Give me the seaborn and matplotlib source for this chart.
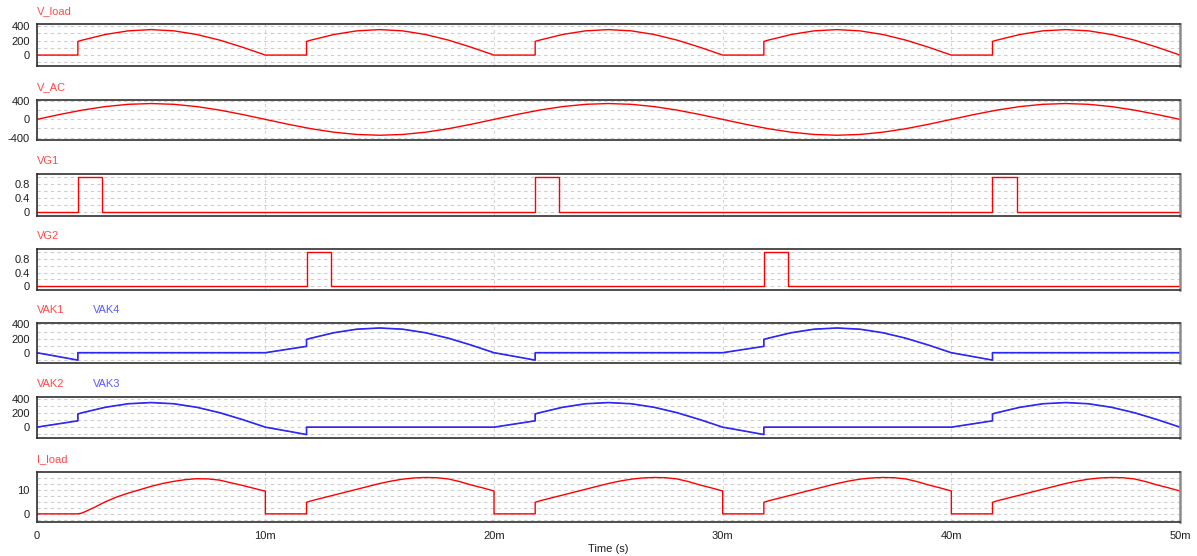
import seaborn as sns
import matplotlib.pyplot as plt

# time in ms
t_ac = [0, 1, 2, 3, 4, 5, 6, 7, 8, 9, 10, 11, 12, 13, 14, 15, 16, 17, 18, 19,
        20, 21, 22, 23, 24, 25, 26, 27, 28, 29, 30, 31, 32, 33, 34, 35, 36, 37, 38, 39,
        40, 41, 42, 43, 44, 45, 46, 47, 48, 49, 50]
v_ac = [0, 108, 206, 283, 333, 350, 333, 283, 206, 108,
        0, -108, -206, -283, -333, -350, -333, -283, -206, -108,
        0, 108, 206, 283, 333, 350, 333, 283, 206, 108,
        0, -108, -206, -283, -333, -350, -333, -283, -206, -108,
        0, 108, 206, 283, 333, 350, 333, 283, 206, 108,
        0]

t_load = [0, 1.8, 1.8, 2, 3, 4, 5, 6, 7, 8, 9, 10,
          11.8, 11.8, 12, 13, 14, 15, 16, 17, 18, 19, 20,
          21.8, 21.8, 22, 23, 24, 25, 26, 27, 28, 29, 30,
          31.8, 31.8, 32, 33, 34, 35, 36, 37, 38, 39, 40,
          41.8, 41.8, 42, 43, 44, 45, 46, 47, 48, 49, 50]
v_load = [0, 0, 188, 206, 283, 333, 350, 333, 283, 206, 108, 0,
          0, 188, 206, 283, 333, 350, 333, 283, 206, 108, 0,
          0, 188, 206, 283, 333, 350, 333, 283, 206, 108, 0,
          0, 188, 206, 283, 333, 350, 333, 283, 206, 108, 0,
          0, 188, 206, 283, 333, 350, 333, 283, 206, 108, 0]

t_vg1 = [0, 1.8, 1.8, 2.85, 2.85, 21.8, 21.8, 22.85, 22.85, 41.8, 41.8, 42.85, 42.85, 50]
v_vg1 = [0, 0, 1, 1, 0, 0, 1, 1, 0, 0, 1, 1, 0, 0]

t_vg2 = [0, 11.8, 11.8, 12.85, 12.85, 31.8, 31.8, 32.85, 32.85, 50]
v_vg2 = [0, 0, 1, 1, 0, 0, 1, 1, 0, 0]

t_vak4 = [0, 1, 1.8, 1.8, 10, 11, 11.8, 11.8, 12, 13, 14, 15, 16, 17, 18, 19, 20,
          21, 21.8, 21.8, 30, 31, 31.8, 31.8, 32, 33, 34, 35, 36, 37, 38, 39, 40,
          41, 41.8, 41.8, 50]
v_vak4 = [0, -58, -105, 0, 0, 50, 90, 188, 206, 283, 333, 350, 333, 283, 206, 108, 0,
          -58, -105, 0, 0, 50, 90, 188, 206, 283, 333, 350, 333, 283, 206, 108, 0,
          -58, -105, 0, 0]
# VAK1 sits exactly under VAK4
v_vak1 = v_vak4

t_vak3 = [0, 1, 1.8, 1.8, 2, 3, 4, 5, 6, 7, 8, 9, 10,
          11, 11.8, 11.8, 20,
          21, 21.8, 21.8, 22, 23, 24, 25, 26, 27, 28, 29, 30,
          31, 31.8, 31.8, 40,
          41, 41.8, 41.8, 42, 43, 44, 45, 46, 47, 48, 49, 50]
v_vak3 = [0, 50, 90, 188, 206, 283, 333, 350, 333, 283, 206, 108, 0,
          -58, -105, 0, 0,
          50, 90, 188, 206, 283, 333, 350, 333, 283, 206, 108, 0,
          -58, -105, 0, 0,
          50, 90, 188, 206, 283, 333, 350, 333, 283, 206, 108, 0]
v_vak2 = v_vak3

t_i = [0, 1.8, 2, 2.5, 3, 3.5, 4, 4.5, 5, 5.5, 6, 6.5, 7, 7.5, 8, 8.5, 9, 9.5, 10, 10,
       11.8, 11.8, 12, 12.5, 13, 13.5, 14, 14.5, 15, 15.5, 16, 16.5, 17, 17.5, 18, 18.5, 19, 19.5, 20, 20,
       21.8, 21.8, 22, 22.5, 23, 23.5, 24, 24.5, 25, 25.5, 26, 26.5, 27, 27.5, 28, 28.5, 29, 29.5, 30, 30,
       31.8, 31.8, 32, 32.5, 33, 33.5, 34, 34.5, 35, 35.5, 36, 36.5, 37, 37.5, 38, 38.5, 39, 39.5, 40, 40,
       41.8, 41.8, 42, 42.5, 43, 43.5, 44, 44.5, 45, 45.5, 46, 46.5, 47, 47.5, 48, 48.5, 49, 49.5, 50]
v_i = [0, 0, 0.4, 2.6, 5.0, 7.0, 8.6, 10.0, 11.4, 12.6, 13.5, 14.2, 14.6, 14.5, 14.0, 12.9, 11.8, 10.6, 9.4, 0,
       0, 4.8, 5.4, 6.6, 7.8, 9.0, 10.2, 11.4, 12.6, 13.6, 14.4, 14.9, 15.1, 15.0, 14.5, 13.4, 12.0, 10.8, 9.5, 0,
       0, 4.8, 5.4, 6.6, 7.8, 9.0, 10.2, 11.4, 12.6, 13.6, 14.4, 14.9, 15.1, 15.0, 14.5, 13.4, 12.0, 10.8, 9.5, 0,
       0, 4.8, 5.4, 6.6, 7.8, 9.0, 10.2, 11.4, 12.6, 13.6, 14.4, 14.9, 15.1, 15.0, 14.5, 13.4, 12.0, 10.8, 9.5, 0,
       0, 4.8, 5.4, 6.6, 7.8, 9.0, 10.2, 11.4, 12.6, 13.6, 14.4, 14.9, 15.1, 15.0, 14.5, 13.4, 12.0, 10.8, 9.5]

x_ticks = [0, 10, 20, 30, 40, 50]
x_labels = ["0", "10m", "20m", "30m", "40m", "50m"]

RED = "#ff0000"
BLUE = "#2828ff"
RED_TXT = "#ff4848"
BLUE_TXT = "#5a5aff"

sns.set_style("white")
plt.rcParams["font.family"] = ["Liberation Sans", "DejaVu Sans"]

# (labels, traces as (t, v, colour, width), ylim, grid values, labelled values, pixel top/bottom)
panels = [
    ([("V_load", RED_TXT)], [(t_load, v_load, RED, 1.0)], (-146, 423),
     [-100, 0, 100, 200, 300, 400], [0, 200, 400], (24.3, 65.7)),
    ([("V_AC", RED_TXT)], [(t_ac, v_ac, RED, 1.0)], (-444, 435),
     [-400, -200, 0, 200, 400], [-400, 0, 400], (99.7, 139.5)),
    ([("VG1", RED_TXT)], [(t_vg1, v_vg1, RED, 1.0)], (-0.12, 1.09),
     [0, 0.2, 0.4, 0.6, 0.8, 1.0], [0, 0.4, 0.8], (174.3, 215.7)),
    ([("VG2", RED_TXT)], [(t_vg2, v_vg2, RED, 1.0)], (-0.12, 1.09),
     [0, 0.2, 0.4, 0.6, 0.8, 1.0], [0, 0.4, 0.8], (249.0, 290.3)),
    ([("VAK1", RED_TXT), ("VAK4", BLUE_TXT)],
     [(t_vak4, v_vak1, RED, 0.5), (t_vak4, v_vak4, BLUE, 1.2)],
     (-150, 425), [-100, 0, 100, 200, 300, 400], [0, 200, 400], (322.7, 363.3)),
    ([("VAK2", RED_TXT), ("VAK3", BLUE_TXT)],
     [(t_vak3, v_vak2, RED, 0.5), (t_vak3, v_vak3, BLUE, 1.2)],
     (-150, 425), [-100, 0, 100, 200, 300, 400], [0, 200, 400], (397.3, 437.7)),
    ([("I_load", RED_TXT)], [(t_i, v_i, RED, 1.0)], (-3.5, 17.5),
     [-2.5, 0, 2.5, 5, 7.5, 10, 12.5, 15], [0, 10], (471.7, 522.3)),
]

W, H = 1197, 556
X0, X1 = 36.7, 1180.0


def fmt(g):
    if isinstance(g, float) and not g.is_integer():
        return f"{g:.1f}"
    return str(int(g))


fig = plt.figure(figsize=(W / 100, H / 100), dpi=100)

for i, (names, traces, ylim, grid, labelled, (top, bot)) in enumerate(panels):
    ax = fig.add_axes([X0 / W, 1 - bot / H, (X1 - X0) / W, (bot - top) / H])
    for t, v, col, lw in traces:
        sns.lineplot(x=t, y=v, ax=ax, color=col, lw=lw, estimator=None, sort=False)
    ax.set_xlim(0, 50)
    ax.set_ylim(*ylim)
    ax.set_xlabel("")
    ax.set_ylabel("")

    ax.set_yticks(grid, labels=[fmt(g) if g in labelled else "" for g in grid])
    last = i == len(panels) - 1
    ax.set_xticks(x_ticks, labels=x_labels if last else [""] * len(x_ticks))
    ax.tick_params(length=0, labelsize=8, labelcolor="#202020")
    ax.tick_params(axis="y", pad=5)
    ax.tick_params(axis="x", pad=6)

    ax.set_axisbelow(True)
    ax.yaxis.grid(True, color="#cdcdcd", ls=(0, (3, 3)), lw=0.8)
    ax.xaxis.grid(True, color="#d6d6d6", ls=(0, (3, 3)), lw=0.8)

    for side in ["top", "left", "bottom"]:
        ax.spines[side].set_color("#303030")
        ax.spines[side].set_linewidth(1.2)
    ax.spines["right"].set_color("#8c8c8c")
    ax.spines["right"].set_linewidth(1.8)

    offsets = [0, 40.8]
    for (name, col), dx in zip(names, offsets):
        ax.annotate(name, xy=(0, 1), xycoords="axes fraction", xytext=(dx, 9.4),
                    textcoords="offset points", ha="left", va="center",
                    color=col, fontsize=8)

fig.text(608 / W, 1 - 549 / H, "Time (s)", ha="center", va="center",
         fontsize=8, color="#202020")

fig.savefig("out.png", dpi=100)
